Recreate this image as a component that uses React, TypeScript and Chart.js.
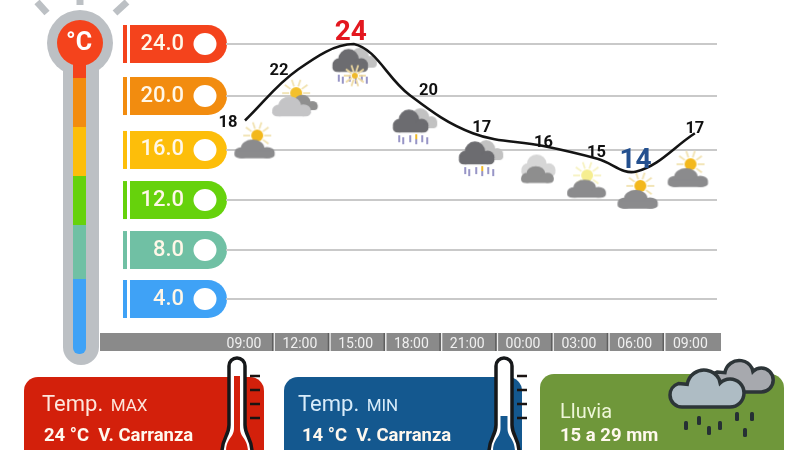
import React, { useEffect, useRef } from "react";
import { Chart, registerables } from "chart.js";

Chart.register(...registerables);

const timeLabels = ["09:00", "12:00", "15:00", "18:00", "21:00", "00:00", "03:00", "06:00", "09:00"];
const tickHours = [0, 3, 6, 9, 12, 15, 18, 21, 24];
const pointHours = [0.05, 2.9, 5.9, 8.9, 12.3, 16.1, 19, 21.1, 24.24];
const temperatures = [18, 22, 24, 20, 17, 16, 15, 14, 17];
const bandLabels = ["24.0", "20.0", "16.0", "12.0", "8.0", "4.0"];
const bandValues = [24, 19.92, 15.69, 11.76, 7.84, 4];
const bandColors = ["#f4431c", "#f28c0f", "#fdbe0a", "#66d20c", "#70c0a4", "#3fa2f6"];
const iconHours = [0.6, 2.75, 5.9, 9.15, 12.7, 15.8, 18.45, 21.2, 23.9];
const iconTemps = [16.35, 19.6, 22.3, 17.55, 15.05, 14, 13.3, 12.4, 14.1];
const iconKinds = ["sun", "haze", "storm", "rain", "rain", "cloud", "pale", "sun", "sun"];
const cards = [
  { title: "Temp.", tag: "MAX", line: "24 °C  V. Carranza" },
  { title: "Temp.", tag: "MIN", line: "14 °C  V. Carranza" },
  { title: "Lluvia", tag: "", line: "15 a 29 mm" },
];

const FONT = "Roboto, sans-serif";

function rr(c: any, x: number, y: number, w: number, h: number, r: number) {
  c.beginPath();
  c.roundRect(x, y, w, h, r);
}

function blob(c: any, x: number, y: number, s: number, color: string, sy = 1) {
  const base = y + 9 * s;
  c.save();
  c.translate(0, base);
  c.scale(1, sy);
  c.translate(0, -base);
  c.fillStyle = color;
  c.beginPath();
  c.arc(x - 10 * s, y + 3 * s, 6 * s, 0, Math.PI * 2);
  c.arc(x - 2 * s, y - 2 * s, 9 * s, 0, Math.PI * 2);
  c.fill();
  c.beginPath();
  c.arc(x + 9 * s, y + 3 * s, 6 * s, 0, Math.PI * 2);
  c.fill();
  c.beginPath();
  c.roundRect(x - 16 * s, y + 1 * s, 31 * s, 8 * s, 4 * s);
  c.fill();
  c.restore();
}

function sun(c: any, x: number, y: number, r: number, core: string, rays: string) {
  c.strokeStyle = rays;
  c.lineWidth = 1.8;
  for (let i = 0; i < 10; i++) {
    const a = (i / 10) * Math.PI * 2;
    c.beginPath();
    c.moveTo(x + Math.cos(a) * (r + 1), y + Math.sin(a) * (r + 1));
    c.lineTo(x + Math.cos(a) * (r + 8), y + Math.sin(a) * (r + 8));
    c.stroke();
  }
  c.fillStyle = core;
  c.beginPath();
  c.arc(x, y, r, 0, Math.PI * 2);
  c.fill();
}

function drops(c: any, x: number, y: number, color: string) {
  c.strokeStyle = color;
  c.lineWidth = 1.6;
  [-14, -10, -3, 3, 9, 14].forEach((dx, i) => {
    c.beginPath();
    c.moveTo(x + dx, y + (i % 2) * 2);
    c.lineTo(x + dx, y + 7 + (i % 2) * 2);
    c.stroke();
  });
}

function makeIcon(kind: string) {
  const cv = document.createElement("canvas");
  cv.width = 56;
  cv.height = 44;
  const c: any = cv.getContext("2d");
  const x = 28;
  if (kind === "sun") {
    sun(c, x + 2, 16, 6, "#f3b81c", "#f1e2b0");
    blob(c, x, 27, 1.3, "#8b8b8d", 0.72);
  } else if (kind === "pale") {
    sun(c, x, 17, 6, "#f6ee90", "#f7f2c0");
    blob(c, x, 28, 1.25, "#8b8b8d", 0.72);
  } else if (kind === "haze") {
    sun(c, x + 1, 15, 6, "#f3c02c", "#f1e2b0");
    blob(c, x + 9, 24, 0.9, "#8f8f8f", 0.85);
    blob(c, x - 3, 27, 1.25, "#c4c4c6", 0.8);
  } else if (kind === "cloud") {
    blob(c, x + 1, 17, 1.1, "#d6d6d6");
    blob(c, x, 24, 1.05, "#8e8e8e", 0.8);
  } else {
    blob(c, x + 8, 15, 1, "#c2c2c2");
    blob(c, x - 3, 18, 1.15, "#6c6c70");
    drops(c, x - 1, 31, "#7d7ab8");
    if (kind === "storm") sun(c, x + 1, 32, 3, "#efb92a", "#eed9a0");
    else {
      c.fillStyle = "#efb92a";
      c.fillRect(x + 1, 30, 2, 5);
    }
  }
  return cv;
}

function cardThermo(c: any, x: number, fill: string, stemTop: number, inner: number) {
  const outline = () => {
    c.beginPath();
    c.moveTo(x - 15, 452);
    c.bezierCurveTo(x - 15, 438, x - 8, 436, x - 8, 425);
    c.lineTo(x - 8, 366);
    c.arc(x, 366, 8, Math.PI, 0);
    c.lineTo(x + 8, 425);
    c.bezierCurveTo(x + 8, 436, x + 15, 438, x + 15, 452);
  };
  c.fillStyle = "#ffffff";
  outline();
  c.closePath();
  c.fill();
  c.lineWidth = 3.5;
  c.strokeStyle = "#16181a";
  outline();
  c.stroke();
  c.fillStyle = fill;
  c.beginPath();
  c.moveTo(x - inner, stemTop);
  c.lineTo(x + inner, stemTop);
  c.lineTo(x + inner, 428);
  c.bezierCurveTo(x + inner, 438, x + 11, 438, x + 11, 452);
  c.lineTo(x - 11, 452);
  c.bezierCurveTo(x - 11, 438, x - inner, 438, x - inner, 428);
  c.closePath();
  c.fill();
  c.lineWidth = 2.5;
  c.strokeStyle = "#1b1412";
  [376, 390, 404, 418].forEach((y) => {
    c.beginPath();
    c.moveTo(x + 13, y);
    c.lineTo(x + 23, y);
    c.stroke();
  });
}

function rainClouds(c: any) {
  const path = (x: number, y: number, s: number) => {
    c.beginPath();
    c.moveTo(x - 30 * s, y + 14 * s);
    c.arc(x - 30 * s, y + 2 * s, 12 * s, Math.PI / 2, Math.PI * 1.4);
    c.arc(x - 8 * s, y - 6 * s, 17 * s, Math.PI * 1.05, Math.PI * 1.85);
    c.arc(x + 18 * s, y, 14 * s, Math.PI * 1.25, Math.PI * 0.5);
    c.closePath();
    c.fill();
    c.stroke();
  };
  c.lineWidth = 3.5;
  c.strokeStyle = "#2d3538";
  c.fillStyle = "#a7a9ae";
  path(746, 380, 0.85);
  c.fillStyle = "#aebcc4";
  path(712, 393, 1);
  c.fillStyle = "#263034";
  [[686, 425], [699, 420], [709, 430], [720, 425], [737, 416], [752, 416], [745, 432]].forEach(([x, y]) => {
    rr(c, x - 2, y - 4, 4, 9, 1.5);
    c.fill();
  });
}

const backdrop = {
  id: "backdrop",
  beforeDraw(chart: any) {
    const c = chart.ctx;
    const yScale = chart.scales.y;
    const xScale = chart.scales.x;
    c.save();
    c.fillStyle = "#ffffff";
    c.fillRect(0, 0, 800, 450);

    c.strokeStyle = "#bcc0c4";
    c.lineWidth = 7;
    [[37, 2, 47, 13], [80, -3, 80, 5], [127, 2, 115, 13]].forEach(([a, b, d, e]) => {
      c.beginPath();
      c.moveTo(a, b);
      c.lineTo(d, e);
      c.stroke();
    });
    c.fillStyle = "#bcc0c4";
    c.beginPath();
    c.arc(80, 43, 33, 0, Math.PI * 2);
    c.fill();
    rr(c, 63, 50, 36, 315, 18);
    c.fill();
    const stops = [60, 78, 127, 176, 225, 279, 345];
    bandColors.forEach((col, i) => {
      c.fillStyle = col;
      c.fillRect(73, stops[i], 13, stops[i + 1] - stops[i]);
    });
    c.fillStyle = bandColors[5];
    rr(c, 73, 335, 13, 19, 6);
    c.fill();
    c.fillStyle = bandColors[0];
    c.beginPath();
    c.arc(80, 43, 23, 0, Math.PI * 2);
    c.fill();
    c.fillStyle = "#ffffff";
    c.font = `700 25px ${FONT}`;
    c.textAlign = "center";
    c.textBaseline = "middle";
    c.fillText("°C", 79, 44);

    bandValues.forEach((v, i) => {
      const y = yScale.getPixelForValue(v);
      c.fillStyle = bandColors[i];
      c.fillRect(123, y - 19, 4, 38);
      c.beginPath();
      c.roundRect(130, y - 19, 97, 38, [0, 19, 19, 0]);
      c.fill();
      c.fillStyle = "#ffffff";
      c.beginPath();
      c.ellipse(205, y, 11.5, 11, 0, 0, Math.PI * 2);
      c.fill();
    });

    c.fillStyle = "#8a8a8a";
    c.fillRect(100, 333, 621, 18);
    tickHours.slice(0, -1).forEach((h) => {
      const x = (xScale.getPixelForValue(h) + xScale.getPixelForValue(h + 3)) / 2;
      c.fillStyle = "#ededed";
      c.fillRect(x + 1.5, 333, 1.5, 18);
      c.fillStyle = "#5f5f5f";
      c.fillRect(x, 333, 1.5, 18);
    });

    c.fillStyle = "#d3200b";
    rr(c, 24, 377, 240, 90, 14);
    c.fill();
    c.fillStyle = "#14588f";
    rr(c, 284, 377, 238, 90, 14);
    c.fill();
    c.fillStyle = "#6f973a";
    rr(c, 540, 374, 244, 90, 14);
    c.fill();
    cardThermo(c, 237, "#d3200b", 376, 3);
    cardThermo(c, 504, "#14588f", 416, 3.5);
    rainClouds(c);

    c.textAlign = "left";
    c.textBaseline = "alphabetic";
    const xs = [42, 298, 560];
    const lineXs = [44, 302, 560];
    const colors = ["#fde6dc", "#d8ecfa", "#eef6d8"];
    cards.forEach((k, i) => {
      c.fillStyle = colors[i];
      const isRain = !k.tag;
      c.font = `400 ${isRain ? 20 : 22}px ${FONT}`;
      c.fillText(k.title, xs[i], isRain ? 418 : 411);
      if (k.tag) {
        const w = c.measureText(k.title + " ").width;
        c.font = `400 17px ${FONT}`;
        c.fillText(k.tag, xs[i] + w + 2, 411);
      }
      c.font = `700 18.5px ${FONT}`;
      c.fillStyle = "#fff8ee";
      c.fillText(k.line, lineXs[i], 441);
    });
    c.restore();
  },
};

const valueLabels = {
  id: "valueLabels",
  afterDatasetsDraw(chart: any) {
    const c = chart.ctx;
    const pts = chart.getDatasetMeta(0).data;
    const dx = [-17, -19, -3, 19, 9, 0, -1, -1, 0];
    const dy = [2, 1, -11, -4, -5, -3, -6, -11, -4];
    const hi = Math.max(...temperatures);
    const lo = Math.min(...temperatures);
    c.save();
    c.textAlign = "center";
    c.textBaseline = "middle";
    temperatures.forEach((t, i) => {
      const big = t === hi || t === lo;
      c.font = big ? `700 28px ${FONT}` : `700 16.5px ${FONT}`;
      c.fillStyle = t === hi ? "#e3171f" : t === lo ? "#24508f" : "#111111";
      c.fillText(String(t), pts[i].x + dx[i], pts[i].y + dy[i]);
    });
    c.restore();
  },
};

export default function App() {
  const ref = useRef<HTMLCanvasElement>(null);
  useEffect(() => {
    const icons: Record<string, HTMLCanvasElement> = {};
    iconKinds.forEach((k) => {
      if (!icons[k]) icons[k] = makeIcon(k);
    });
    const chart = new Chart(ref.current as HTMLCanvasElement, {
      type: "line",
      data: {
        datasets: [
          {
            label: "Temperatura",
            data: pointHours.map((h, i) => ({ x: h, y: temperatures[i] })),
            borderColor: "#141414",
            borderWidth: 2.6,
            pointRadius: 0,
            tension: 0.38,
            clip: false,
            fill: false,
          },
          {
            label: "Cielo",
            data: iconHours.map((h, i) => ({ x: h, y: iconTemps[i] })),
            showLine: false,
            pointRadius: 10,
            pointStyle: (ctx: any) => icons[iconKinds[ctx.dataIndex]],
            clip: false,
          },
        ],
      } as any,
      options: {
        responsive: false,
        animation: false,
        devicePixelRatio: 1,
        layout: { padding: { left: 0, right: 83, top: 0, bottom: 0 } },
        plugins: { legend: { display: false }, tooltip: { enabled: false }, title: { display: false } },
        scales: {
          x: {
            type: "linear",
            min: -0.97,
            max: 25.43,
            afterBuildTicks: (s: any) => {
              s.ticks = tickHours.map((value) => ({ value }));
            },
            afterFit: (s: any) => {
              s.height = 151;
            },
            grid: { display: false },
            border: { display: false },
            ticks: {
              autoSkip: false,
              maxRotation: 0,
              padding: 29,
              color: "#f0f0f0",
              font: { family: "Roboto", size: 14 },
              callback: (_v: any, i: number) => timeLabels[i],
            },
          },
          y: {
            type: "linear",
            min: 4,
            max: 24,
            afterBuildTicks: (s: any) => {
              s.ticks = bandValues.map((value) => ({ value }));
            },
            afterFit: (s: any) => {
              s.width = 226;
            },
            grid: { color: "#c9c9c9", lineWidth: 2, drawTicks: true, tickLength: 11.2, tickColor: "rgba(0,0,0,0)" },
            border: { display: false },
            ticks: {
              autoSkip: false,
              padding: 30.8,
              color: "#fff7e8",
              font: { family: "Roboto", size: 22, weight: "500" },
              callback: (_v: any, i: number) => bandLabels[i],
            },
          },
        },
      } as any,
      plugins: [backdrop, valueLabels],
    });
    return () => chart.destroy();
  }, []);
  return (
    <canvas
      ref={ref}
      width={800}
      height={450}
      style={{ position: "absolute", left: 0, top: 0, width: 800, height: 450, display: "block" }}
    />
  );
}
